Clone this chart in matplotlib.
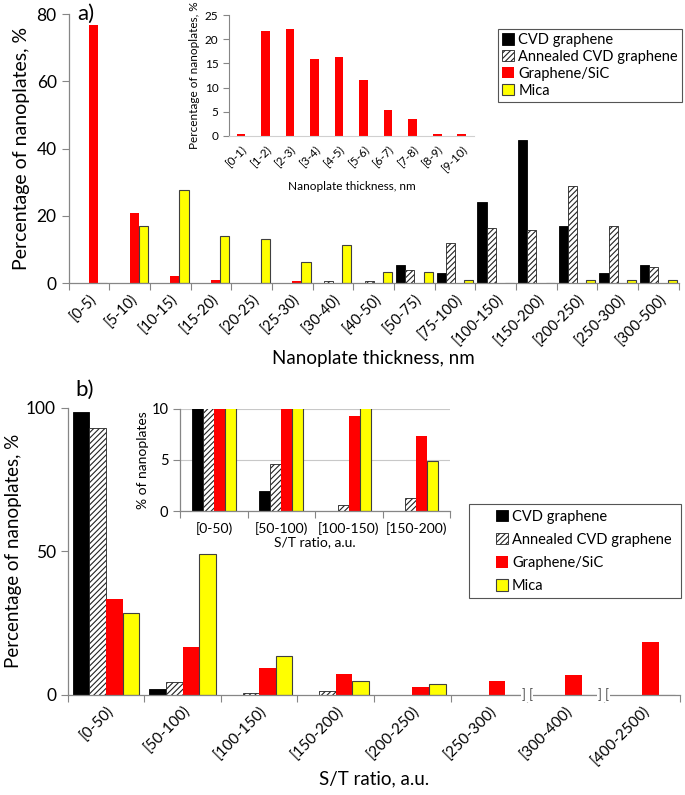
"""Nanoplate thickness and S/T ratio distributions (two panels with insets)."""

import matplotlib.pyplot as plt
import numpy as np
from matplotlib.patches import Rectangle

plt.rcParams["font.family"] = ["Lato", "DejaVu Sans"]
plt.rcParams["hatch.linewidth"] = 0.8

SERIES = ["CVD graphene", "Annealed CVD graphene", "Graphene/SiC", "Mica"]

# panel a: thickness distribution, %
THICK_BINS = ["[0-5)", "[5-10)", "[10-15)", "[15-20)", "[20-25)", "[25-30)",
              "[30-40)", "[40-50)", "[50-75)", "[75-100)", "[100-150)",
              "[150-200)", "[200-250)", "[250-300)", "[300-500)"]
THICK_CVD = [0, 0, 0, 0, 0, 0, 0, 0, 5.3, 3.0, 24.0, 42.5, 17.1, 2.9, 5.3]
THICK_ANNEALED = [0, 0, 0, 0, 0, 0, 0.6, 0.6, 4.0, 11.8, 16.4, 15.8, 28.9, 17.1, 4.7]
THICK_SIC = [76.7, 20.7, 2.0, 1.0, 0, 0.6, 0, 0, 0, 0, 0, 0, 0, 0, 0]
THICK_MICA = [0, 17.0, 27.6, 13.9, 13.1, 6.4, 11.3, 3.3, 3.3, 0.8, 0, 0, 0.8, 0.8, 0.8]

# inset a: Graphene/SiC below 10 nm
INSET_BINS = ["[0-1)", "[1-2)", "[2-3)", "[3-4)", "[4-5)",
              "[5-6)", "[6-7)", "[7-8)", "[8-9)", "[9-10)"]
INSET_SIC = [0.5, 21.7, 22.1, 15.9, 16.3, 11.6, 5.3, 3.5, 0.5, 0.5]

# panel b: S/T ratio distribution, %
ST_BINS = ["[0-50)", "[50-100)", "[100-150)", "[150-200)", "[200-250)",
           "[250-300)", "[300-400)", "[400-2500)"]
ST_CVD = [98.6, 2.0, 0, 0, 0, 0, 0, 0]
ST_ANNEALED = [93.1, 4.6, 0.65, 1.3, 0, 0, 0, 0]
ST_SIC = [33.3, 16.5, 9.3, 7.3, 2.9, 4.9, 7.0, 18.4]
ST_MICA = [28.5, 48.9, 13.6, 4.9, 3.8, 0, 0, 0]
ST_INSET_N = 4

AXIS_GREY = "#868686"
STYLES = [
    dict(color="black", edgecolor="black", linewidth=0.6),
    dict(color="white", edgecolor="#222222", hatch="//////", linewidth=0.6),
    dict(color="#ff0000", edgecolor="#ff0000", linewidth=0.0),
    dict(color="#ffff00", edgecolor="#404040", linewidth=0.8),
]


def grouped_bars(ax, series, width):
    x = np.arange(len(series[0]))
    handles = []
    for i, (vals, style) in enumerate(zip(series, STYLES)):
        h = ax.bar(x + (i - 1.5) * width, vals, width, **style)
        handles.append(h)
    return handles


def category_axis(ax, labels, *, fontsize, rotation, ylim, yticks, ytick_fs):
    n = len(labels)
    ax.set_xlim(-0.5, n - 0.5)
    ax.set_xticks(np.arange(n))
    ax.set_xticks(np.arange(n + 1) - 0.5, minor=True)
    if rotation:
        ax.set_xticklabels(labels, rotation=rotation, ha="right",
                           rotation_mode="anchor", fontsize=fontsize)
    else:
        ax.set_xticklabels(labels, fontsize=fontsize)
    ax.tick_params(axis="x", which="major", length=0, pad=6)
    ax.tick_params(axis="x", which="minor", length=5, color=AXIS_GREY, width=0.8)
    ax.set_ylim(*ylim)
    ax.set_yticks(yticks)
    ax.tick_params(axis="y", length=5, color=AXIS_GREY, width=0.8, labelsize=ytick_fs)
    for s in ("top", "right"):
        ax.spines[s].set_visible(False)
    for s in ("left", "bottom"):
        ax.spines[s].set_color(AXIS_GREY)
        ax.spines[s].set_linewidth(0.9)


fig = plt.figure(figsize=(6.85, 7.95), dpi=100)
fig.patch.set_facecolor("white")

# ---- panel a ----
ax_a = fig.add_axes([0.100, 0.644, 0.891, 0.338])
handles = grouped_bars(ax_a, [THICK_CVD, THICK_ANNEALED, THICK_SIC, THICK_MICA], 0.225)
category_axis(ax_a, THICK_BINS, fontsize=10.5, rotation=45, ylim=(0, 80),
              yticks=[0, 20, 40, 60, 80], ytick_fs=12.5)
ax_a.set_ylabel("Percentage of nanoplates, %", fontsize=14, labelpad=5)
ax_a.set_xlabel("Nanoplate thickness, nm", fontsize=13.5, labelpad=2)
fig.text(0.113, 0.995, "a)", fontsize=16, va="top", ha="left")

leg_a = ax_a.legend(handles, SERIES, loc="upper right", bbox_to_anchor=(0.996, 0.964),
                    bbox_transform=fig.transFigure, borderaxespad=0, fontsize=10.5,
                    handlelength=0.8, handleheight=0.8, handletextpad=0.3,
                    labelspacing=0.2, borderpad=0.3, fancybox=False, framealpha=1)
leg_a.get_frame().set_edgecolor("#555555")
leg_a.get_frame().set_linewidth(0.8)

# inset a
ax_ia = fig.add_axes([0.334, 0.829, 0.358, 0.152])
ax_ia.set_facecolor("none")
ax_ia.bar(np.arange(len(INSET_SIC)), INSET_SIC, 0.35, color="#ff0000")
ax_ia.set_xlim(-0.5, len(INSET_SIC) - 0.5)
ax_ia.set_xticks(np.arange(len(INSET_SIC)))
ax_ia.set_xticklabels(INSET_BINS, rotation=45, ha="right", rotation_mode="anchor", fontsize=8.5)
ax_ia.tick_params(axis="x", length=0, pad=5)
ax_ia.set_ylim(0, 25)
ax_ia.set_yticks([0, 5, 10, 15, 20, 25])
ax_ia.tick_params(axis="y", length=4, color=AXIS_GREY, width=0.8, labelsize=8.5)
for s in ("top", "right"):
    ax_ia.spines[s].set_visible(False)
ax_ia.spines["left"].set_color(AXIS_GREY)
ax_ia.spines["bottom"].set_color("#d0d0d0")
ax_ia.set_ylabel("Percentage of nanoplates, %", fontsize=8.5, labelpad=3)
ax_ia.set_xlabel("Nanoplate thickness, nm", fontsize=8.5, labelpad=6)

# ---- panel b ----
ax_b = fig.add_axes([0.099, 0.126, 0.894, 0.361])
handles_b = grouped_bars(ax_b, [ST_CVD, ST_ANNEALED, ST_SIC, ST_MICA], 0.217)
category_axis(ax_b, ST_BINS, fontsize=11, rotation=45, ylim=(0, 100),
              yticks=[0, 50, 100], ytick_fs=12.5)
ax_b.set_ylabel("Percentage of nanoplates, %", fontsize=13.5, labelpad=3)
ax_b.set_xlabel("S/T ratio, a.u.", fontsize=13.5, labelpad=2)
fig.text(0.11, 0.522, "b)", fontsize=16, va="top", ha="left")

# axis breaks before the wide bins
for xb in (len(ST_BINS) - 2.5, len(ST_BINS) - 1.5):
    ax_b.text(xb, 0, "] [", ha="center", va="center", fontsize=9, color="#555555",
              clip_on=False, zorder=5,
              bbox=dict(facecolor="white", edgecolor="none", pad=0.5))

# inset b: zoom of the first bins
ax_ib = fig.add_axes([0.263, 0.357, 0.394, 0.129])
ax_ib.set_facecolor("none")
x_ib = np.arange(ST_INSET_N)
w_ib = 0.163
for i, (vals, style) in enumerate(zip([ST_CVD, ST_ANNEALED, ST_SIC, ST_MICA], STYLES)):
    ax_ib.bar(x_ib + (i - 1.5) * w_ib, vals[:ST_INSET_N], w_ib, **style)
category_axis(ax_ib, ST_BINS[:ST_INSET_N], fontsize=10, rotation=0, ylim=(0, 10),
              yticks=[0, 5, 10], ytick_fs=10.5)
ax_ib.tick_params(axis="x", which="major", pad=8)
ax_ib.yaxis.grid(True, color="#c8c8c8", linewidth=0.8)
ax_ib.set_axisbelow(True)
ax_ib.set_ylabel("% of nanoplates", fontsize=10, labelpad=2)
ax_ib.set_xlabel("S/T ratio, a.u.", fontsize=10, labelpad=1)

# legend b with a wide frame drawn separately
frame_b = Rectangle((469 / 685, 1 - 598 / 795), 212 / 685, 94 / 795,
                    transform=fig.transFigure, facecolor="white",
                    edgecolor="#555555", linewidth=0.8, zorder=5)
fig.add_artist(frame_b)
leg_b = fig.legend(handles_b, SERIES, loc="upper left",
                   bbox_to_anchor=(493 / 685, 1 - 507 / 795), borderaxespad=0,
                   fontsize=10.5, handlelength=0.8, handleheight=0.8,
                   handletextpad=0.3, labelspacing=0.62, borderpad=0.2, frameon=False)
leg_b.set_zorder(6)

fig.savefig("out.png", dpi=100, facecolor="white")
